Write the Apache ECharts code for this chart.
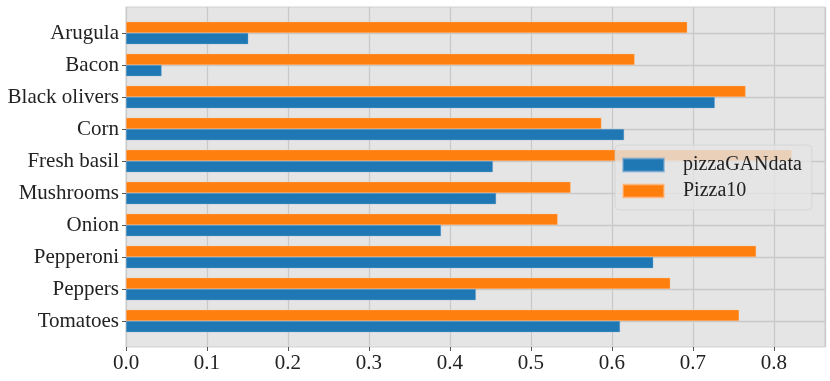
<!DOCTYPE html>
<html>
<head>
<meta charset="utf-8">
<script src="https://cdn.jsdelivr.net/npm/echarts@6/dist/echarts.min.js"></script>
<style>
  html, body { margin: 0; padding: 0; background: #fff; }
  #chart { width: 830px; height: 381px; }
</style>
</head>
<body>
<div id="chart"></div>
<script>
var categories = ["Arugula", "Bacon", "Black olivers", "Corn", "Fresh basil",
    "Mushrooms", "Onion", "Pepperoni", "Peppers", "Tomatoes"];
var ganData = [0.151, 0.044, 0.727, 0.615, 0.453, 0.457, 0.389, 0.651, 0.432, 0.610];
var pizza10Data = [0.693, 0.628, 0.765, 0.587, 0.822, 0.549, 0.533, 0.778, 0.672, 0.757];
var xTicks = [0, 0.1, 0.2, 0.3, 0.4, 0.5, 0.6, 0.7, 0.8];
var xMax = 0.863;

var serif = "'Liberation Serif', 'DejaVu Serif', serif";
var gridColor = "#c9c9c9";
var blue = "#1f77b4", orange = "#ff7f0e";

var chart = echarts.init(document.getElementById("chart"));
var option = {
    animation: false,
    grid: [{
        // background frame
        left: 126, right: 5, top: 7, bottom: 34,
        show: true,
        backgroundColor: "#e5e5e5",
        borderColor: "#d0d0d0",
        borderWidth: 1
    }, {
        // bars
        left: 126, right: 5, top: 33, bottom: 60
    }],
    legend: {
        data: ["pizzaGANdata", "Pizza10"],
        orient: "vertical",
        left: 615, top: 145,
        itemWidth: 41, itemHeight: 13, itemGap: 6,
        padding: [10, 10, 9, 7],
        backgroundColor: "rgba(229,229,229,0.8)",
        borderColor: "rgba(205,205,205,0.6)",
        borderWidth: 1,
        borderRadius: 4,
        icon: "rect",
        textStyle: { fontFamily: serif, fontSize: 20, color: "#222", padding: [0, 0, 0, 14] }
    },
    xAxis: [{
        gridIndex: 0,
        type: "value",
        min: 0, max: xMax, interval: 0.1,
        axisLine: { show: false },
        axisTick: { show: true, length: 4, lineStyle: { color: "#555" } },
        splitLine: { show: true, lineStyle: { color: gridColor, width: 1.3 } },
        axisLabel: {
            fontFamily: serif, fontSize: 21, color: "#222", margin: 6,
            showMaxLabel: false,
            formatter: function (v) {
                return xTicks.indexOf(Math.round(v * 10) / 10) >= 0 ? v.toFixed(1) : "";
            }
        }
    }, {
        gridIndex: 1,
        type: "value",
        min: 0, max: xMax,
        show: false
    }],
    yAxis: [{
        gridIndex: 0,
        type: "value",
        show: false
    }, {
        gridIndex: 1,
        type: "category",
        data: categories,
        inverse: true,
        boundaryGap: false,
        axisLine: { show: false },
        axisTick: { show: true, length: 4, lineStyle: { color: "#555" } },
        splitLine: { show: true, lineStyle: { color: gridColor, width: 1.3 } },
        axisLabel: { fontFamily: serif, fontSize: 21, color: "#222", margin: 7, padding: [5, 0, 0, 0] }
    }],
    series: [{
        name: "Pizza10",
        type: "bar",
        xAxisIndex: 1, yAxisIndex: 1,
        data: pizza10Data,
        barGap: "0%",
        barCategoryGap: "30%",
        clip: false,
        itemStyle: { color: orange, borderColor: "rgba(255,190,140,0.6)", borderWidth: 0.6 }
    }, {
        name: "pizzaGANdata",
        type: "bar",
        xAxisIndex: 1, yAxisIndex: 1,
        data: ganData,
        barGap: "0%",
        barCategoryGap: "30%",
        clip: false,
        itemStyle: { color: blue, borderColor: "rgba(120,170,210,0.6)", borderWidth: 0.6 }
    }]
};
chart.setOption(option);
</script>
</body>
</html>
